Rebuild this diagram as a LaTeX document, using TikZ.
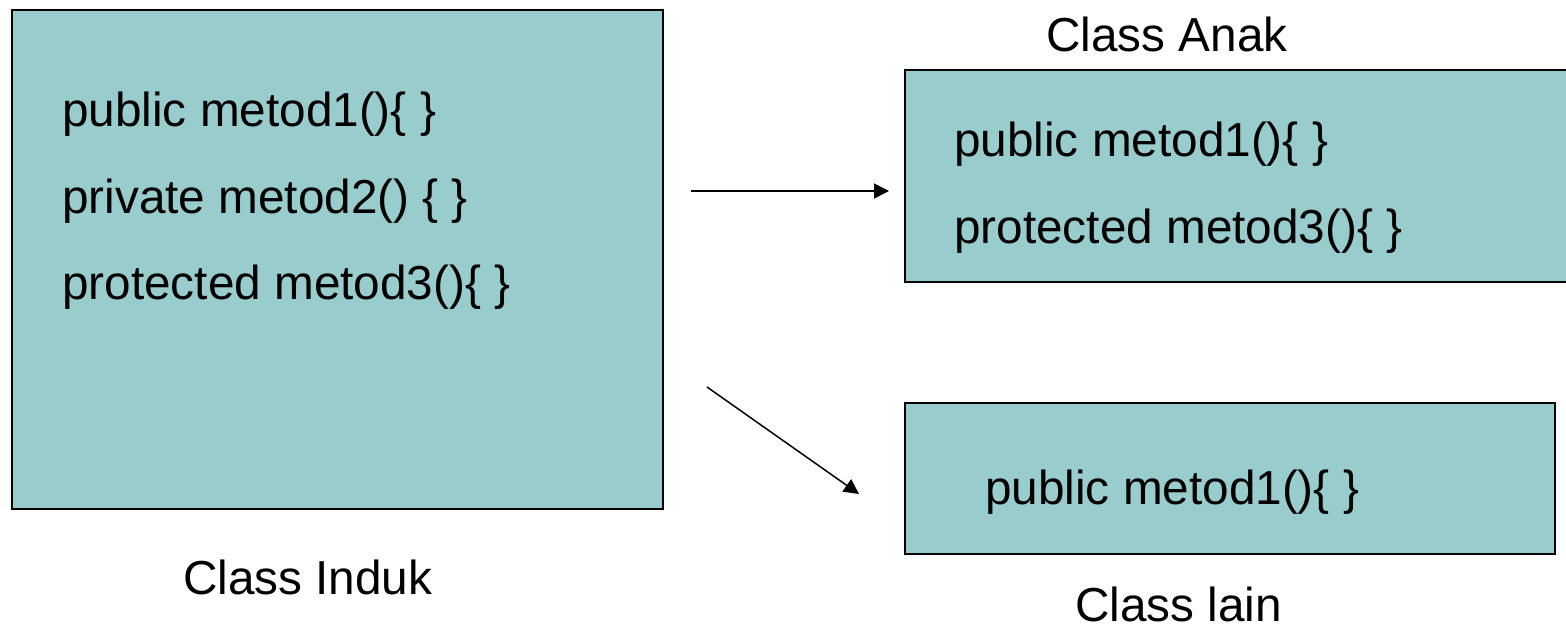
\documentclass[tikz,border=0pt]{standalone}
\usepackage{fontspec}
\setmainfont{Liberation Sans}
\usetikzlibrary{arrows.meta}
\definecolor{boxfill}{HTML}{99CCCC}
\begin{document}
\begin{tikzpicture}[x=1pt,y=-1pt,
  cls/.style={draw=black,line width=2pt,fill=boxfill},
  txt/.style={anchor=base west,inner sep=0pt,font=\fontsize{47.7}{57}\selectfont},
  arr/.style={line width=1.5pt,-{Triangle[length=15pt,width=15pt]}}]
\useasboundingbox (0,0) rectangle (1566,629);
\clip (0,0) rectangle (1566,629);
% boxes
\node[cls,anchor=north west,minimum width=651pt,minimum height=499pt,inner sep=0pt] (induk) at (11,9) {};
\node[cls,anchor=north west,minimum width=680pt,minimum height=212pt,inner sep=0pt] (anak) at (904,69) {};
\node[cls,anchor=north west,minimum width=650pt,minimum height=151pt,inner sep=0pt] (lain) at (904,402) {};
% texts in Class Induk
\node[txt] (i1) at (62,126) {public metod1()\{ \}};
\node[txt] (i2) at (62,213) {private metod2() \{ \}};
\node[txt] (i3) at (62,299) {protected metod3()\{ \}};
\node[txt] (lInduk) at (183,594) {Class Induk};
% Class Anak
\node[txt] (lAnak) at (1046,51) {Class Anak};
\node[txt] (a1) at (954,156) {public metod1()\{ \}};
\node[txt] (a3) at (954,243) {protected metod3()\{ \}};
% Class lain
\node[txt] (b1) at (985,504) {public metod1()\{ \}};
\node[txt] (lLain) at (1075,621) {Class lain};
% arrows
\coordinate (p1s) at (691,191);
\coordinate (p1e) at (889,191);
\coordinate (p2s) at (707,387);
\coordinate (p2e) at (859,494);
\draw[arr] (p1s) -- (p1e);
\draw[arr] (p2s) -- (p2e);
\end{tikzpicture}
\end{document}
